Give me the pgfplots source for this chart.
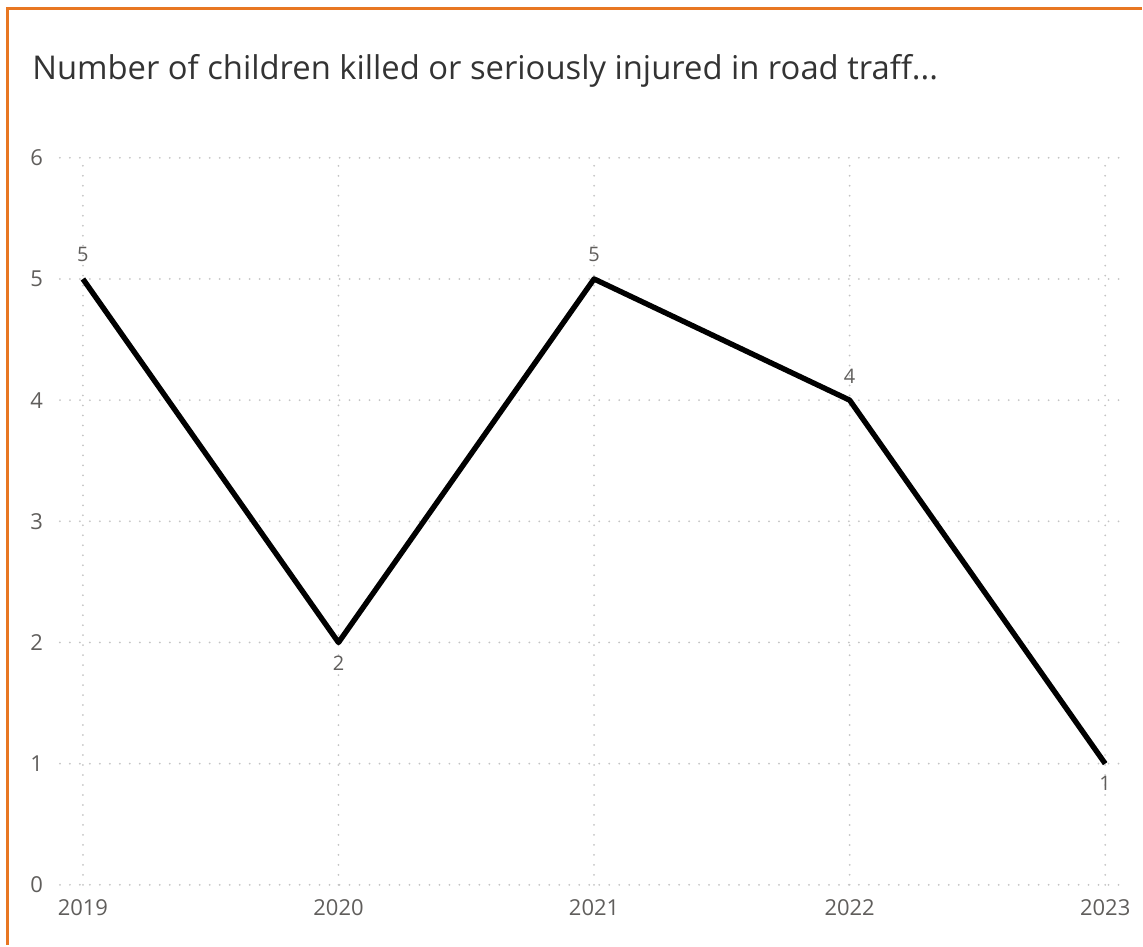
\documentclass[border=0pt]{standalone}
\usepackage{pgfplots}
\pgfplotsset{compat=1.18}
\usepackage{fontspec}
\setmainfont{Open Sans}
\definecolor{frameorange}{HTML}{E87722}
\definecolor{titlegray}{HTML}{333333}
\definecolor{labelgray}{HTML}{605E5C}
\definecolor{gridgray}{HTML}{C4C4C4}

\begin{document}
\begin{tikzpicture}[x=1pt,y=1pt]
    % page size and frame
    \path (0,0) rectangle (571.5,473);
    \draw[frameorange, line width=1.5pt] (4,0) -- (4,468.5) -- (571.5,468.5);
    \node[anchor=base west, inner sep=0, font=\fontsize{16.4}{19}\selectfont, text=titlegray]
        at (16,433) {Number of children killed or seriously injured in road traff...};

    \begin{axis}[
        at={(30pt,30pt)}, anchor=south west,
        scale only axis,
        width=531pt, height=364pt,
        xmin=-0.09, xmax=4.06,
        ymin=0, ymax=6,
        axis line style={draw=none},
        xtick={0,1,2,3,4},
        xticklabels={2019,2020,2021,2022,2023},
        ytick={0,1,2,3,4,5,6},
        grid=major,
        major grid style={gridgray, line width=1pt, line cap=round, dash pattern=on 0pt off 5pt},
        tick style={draw=none},
        /pgf/number format/assume math mode=true,
        ticklabel style={font=\fontsize{11}{13}\selectfont, text=labelgray},
        xticklabel style={yshift=-4pt},
        yticklabel style={xshift=-5pt},
        clip=false,
    ]
        % the series
        \addplot[black, line width=2.7pt, line join=round] coordinates {
            (0,5) (1,2) (2,5) (3,4) (4,1)
        };
        % labels above
        \addplot[draw=none, nodes near coords, nodes near coords align={above},
            every node near coord/.append style={font=\fontsize{10}{12}\selectfont, text=labelgray, yshift=5pt}]
            coordinates {(0,5) (2,5) (3,4)};
        % labels below
        \addplot[draw=none, nodes near coords, nodes near coords align={below},
            every node near coord/.append style={font=\fontsize{10}{12}\selectfont, text=labelgray, yshift=-3pt}]
            coordinates {(1,2) (4,1)};
    \end{axis}
\end{tikzpicture}
\end{document}
